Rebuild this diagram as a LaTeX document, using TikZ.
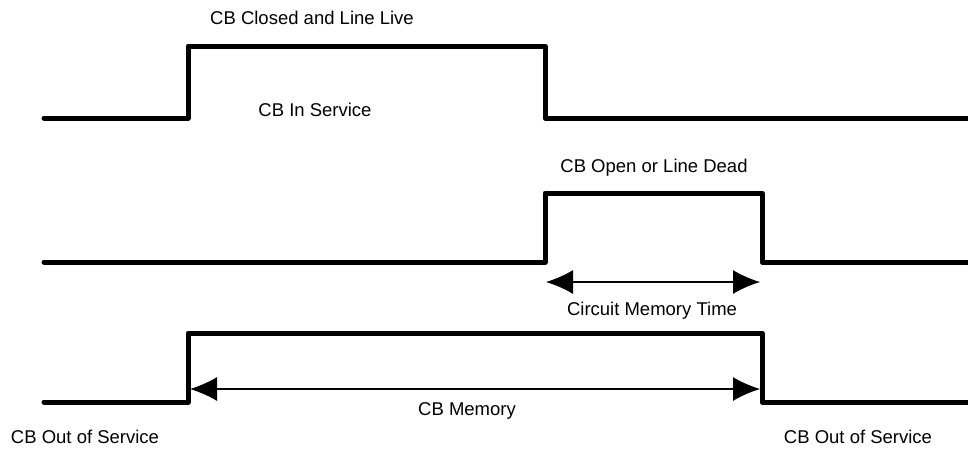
\documentclass[tikz,border=0pt]{standalone}
\usepackage{fontspec}
\setmainfont{Liberation Sans}
\usepackage{tikz}
\usetikzlibrary{arrows,arrows.meta,positioning,calc}

\tikzset{
  wave/.style={black, line width=5pt, line cap=round, line join=round},
  span/.style={black, line width=1.3pt, {Latex[length=27pt,width=24pt]}-{Latex[length=27pt,width=24pt]}},
  lbl/.style={inner sep=0pt, font=\fontsize{18.5}{20}\selectfont}
}

\begin{document}
\begin{tikzpicture}[x=1pt,y=-1pt]
\useasboundingbox (0,0) rectangle (968,448);
% CB closed and line live
\draw[wave] (44,118) -- (188,118) -- (188,46) -- (545,46) -- (545,118) -- (968,118);
\node[lbl] (live) at (312,18) {CB Closed and Line Live};
\node[lbl] (insvc) at (315,110) {CB In Service};
% CB open or line dead
\draw[wave] (44,262) -- (545,262) -- (545,193) -- (762,193) -- (762,262) -- (968,262);
\node[lbl] (dead) at (654,168) {CB Open or Line Dead};
\coordinate (cmL) at (546,282);
\coordinate (cmR) at (760,282);
\draw[span] (cmL) -- (cmR);
\node[lbl] (cmt) at (652,311) {Circuit Memory Time};
% CB memory
\draw[wave] (44,402) -- (188,402) -- (188,333) -- (762,333) -- (762,402) -- (968,402);
\coordinate (mL) at (190,389);
\coordinate (mR) at (760,389);
\draw[span] (mL) -- (mR);
\node[lbl] (mem) at (467,411) {CB Memory};
\node[lbl] (outL) at (85,437) {CB Out of Service};
\node[lbl] (outR) at (858,437) {CB Out of Service};
\end{tikzpicture}
\end{document}
